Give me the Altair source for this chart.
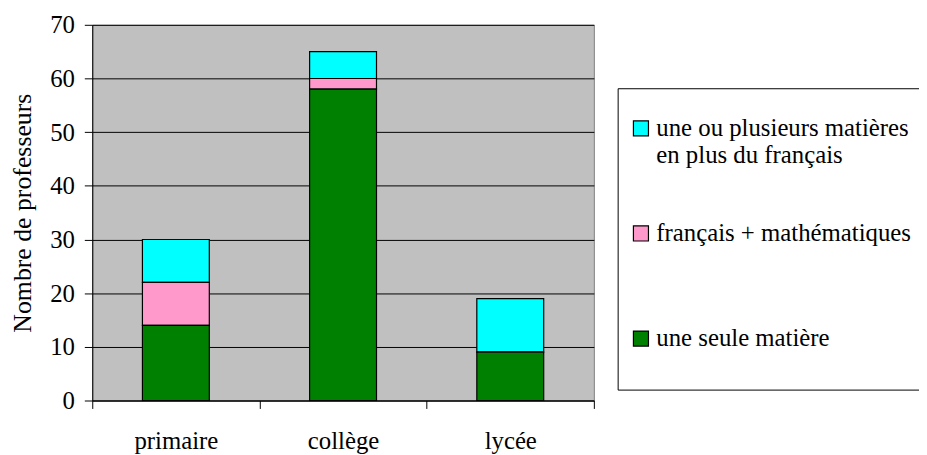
import altair as alt
import pandas as pd

niveaux = ["primaire", "collège", "lycée"]
series = [
    "une ou plusieurs matières|en plus du français",
    "français + mathématiques",
    "une seule matière",
]
plusieurs = [8, 5, 10]
fr_maths = [8, 2, 0]
une_seule = [14, 58, 9]
couleurs = ["#00FFFF", "#FF99CC", "#008000"]
ordre = [2, 1, 0]
graduations = [0, 10, 20, 30, 40, 50, 60, 70]

rows = []
for i, niv in enumerate(niveaux):
    for s, vals, o in zip(series, [plusieurs, fr_maths, une_seule], ordre):
        rows.append({"niveau": niv, "serie": s, "valeur": vals[i], "ordre": o})
df = pd.DataFrame(rows)

FONT = "Liberation Serif, Times New Roman, serif"

chart = (
    alt.Chart(df)
    .mark_bar(stroke="black", strokeWidth=1.2, width=alt.RelativeBandSize(0.4))
    .encode(
        x=alt.X(
            "niveau:N",
            sort=niveaux,
            scale=alt.Scale(paddingInner=0, paddingOuter=0),
            axis=alt.Axis(
                title=None,
                labelAngle=0,
                tickBand="extent",
                domainColor="black",
                tickColor="black",
                tickSize=8,
                labelFont=FONT,
                labelFontSize=25,
                labelColor="black",
                labelPadding=20,
            ),
        ),
        y=alt.Y(
            "valeur:Q",
            stack="zero",
            scale=alt.Scale(domain=[0, 70]),
            axis=alt.Axis(
                values=graduations,
                title="Nombre de professeurs",
                domainColor="black",
                tickColor="black",
                tickSize=8,
                gridColor="black",
                gridWidth=1,
                labelFont=FONT,
                labelFontSize=25,
                labelColor="black",
                labelPadding=10,
                titleFont=FONT,
                titleFontSize=26,
                titleFontWeight="normal",
                titleColor="black",
                titlePadding=14,
            ),
        ),
        color=alt.Color(
            "serie:N",
            sort=series,
            scale=alt.Scale(domain=series, range=couleurs),
            legend=alt.Legend(
                title=" ",
                titleFontSize=12,
                titlePadding=5,
                orient="none",
                legendX=530,
                legendY=64,
                padding=11,
                strokeColor="black",
                fillColor="white",
                symbolType="square",
                symbolSize=230,
                symbolStrokeColor="black",
                symbolStrokeWidth=1.2,
                labelFont=FONT,
                labelFontSize=25,
                labelColor="black",
                labelLimit=500,
                labelOffset=3,
                rowPadding=53,
                labelExpr="slice(split(datum.label + '| ', '|'), 0, 2)",
            ),
        ),
        order=alt.Order("ordre:Q", sort="ascending"),
    )
    .properties(
        width=506,
        height=379,
        autosize="none",
        padding={"left": 85, "top": 15, "right": 328, "bottom": 52},
    )
    .configure_view(fill="#C0C0C0", stroke="#808080", strokeWidth=1)
    .configure_axis(grid=False)
    .configure_axisY(grid=True)
)

chart.save("out.html", embed_options={"renderer": "svg", "actions": False})
